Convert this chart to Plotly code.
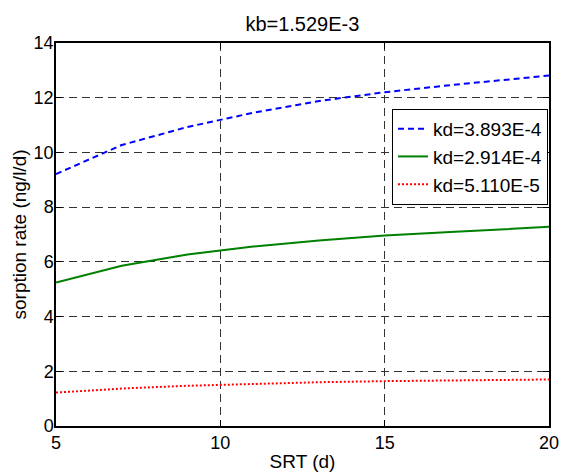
import plotly.graph_objects as go

# Sludge retention time (days)
srt = [5, 7, 9, 11, 13, 15, 17, 19, 20]

# Sorption rate (ng/l/d) for three desorption constants
rate_kd_3893 = [9.21, 10.27, 10.93, 11.45, 11.88, 12.20, 12.46, 12.70, 12.81]
rate_kd_2914 = [5.24, 5.86, 6.27, 6.56, 6.78, 6.96, 7.09, 7.22, 7.28]
rate_kd_0511 = [1.22, 1.37, 1.47, 1.54, 1.60, 1.64, 1.67, 1.69, 1.70]

series_names = ["kd=3.893E-4", "kd=2.914E-4", "kd=5.110E-5"]
x_ticks = [5, 10, 15, 20]
y_ticks = [0, 2, 4, 6, 8, 10, 12, 14]

FONT = "Liberation Sans, Arial, sans-serif"

fig = go.Figure()
fig.add_trace(go.Scatter(x=srt, y=rate_kd_3893, mode="lines", name=series_names[0],
                         line=dict(color="#0000ff", width=2, dash="6px,4px")))
fig.add_trace(go.Scatter(x=srt, y=rate_kd_2914, mode="lines", name=series_names[1],
                         line=dict(color="#008000", width=2)))
fig.add_trace(go.Scatter(x=srt, y=rate_kd_0511, mode="lines", name=series_names[2],
                         line=dict(color="#ff0000", width=2, dash="2px,2px")))

axis_common = dict(
    showline=True, linecolor="black", linewidth=1.5, mirror="allticks",
    ticks="inside", ticklen=6, tickcolor="black",
    showgrid=True, gridcolor="#333333", gridwidth=1, griddash="8px,5px",
    zeroline=False, automargin=False,
    tickfont=dict(family=FONT, size=18, color="black"),
)

fig.update_xaxes(range=[5, 20], tickvals=x_ticks,
                 title=dict(text="SRT (d)", font=dict(family=FONT, size=19, color="black")),
                 **axis_common)
fig.update_yaxes(range=[0, 14], tickvals=y_ticks, ticklabelstandoff=-3,
                 title=dict(text="sorption rate (ng/l/d)", font=dict(family=FONT, size=19, color="black"),
                            standoff=2),
                 **axis_common)

fig.update_layout(
    width=561, height=472,
    margin=dict(l=56, r=12, t=43, b=46),
    paper_bgcolor="white", plot_bgcolor="white",
    font=dict(family=FONT, size=19, color="black"),
    title=dict(text="kb=1.529E-3", x=0.539, xanchor="center", y=0.95, yanchor="middle",
               font=dict(family=FONT, size=20, color="black")),
    legend=dict(x=0.998, xanchor="right", y=0.828, yanchor="top",
                bgcolor="white", bordercolor="black", borderwidth=1,
                font=dict(family=FONT, size=19, color="black"),
                itemwidth=30, tracegroupgap=0),
    showlegend=True,
)

fig.write_html("out.html")
